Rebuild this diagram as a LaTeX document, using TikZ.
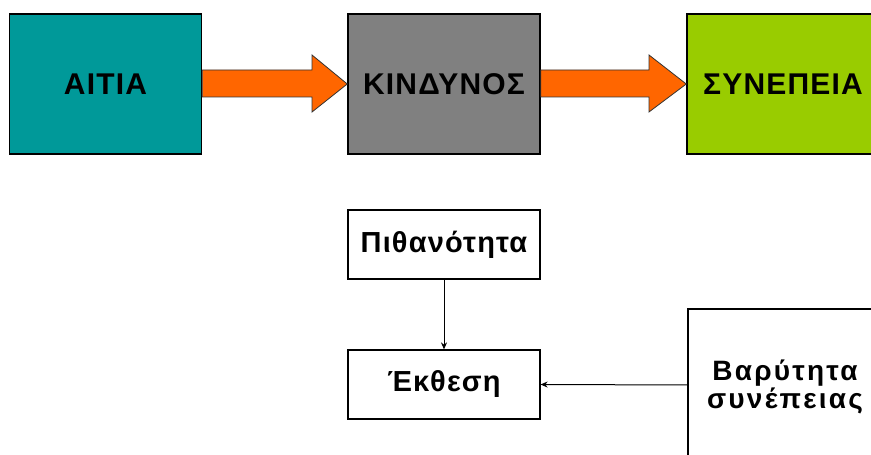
\documentclass[tikz,border=0pt]{standalone}
\usepackage{fontspec}
\setmainfont{Liberation Sans}
\usetikzlibrary{arrows.meta}
\definecolor{teal1}{HTML}{009999}
\definecolor{grey1}{HTML}{808080}
\definecolor{green1}{HTML}{99CC00}
\definecolor{orange1}{HTML}{FF6600}
\tikzset{
  bigbox/.style={draw=black, line width=1.5pt, minimum width=192pt, minimum height=140pt, inner sep=0pt, font=\fontsize{30}{34}\selectfont\bfseries\addfontfeatures{LetterSpace=4}, text=black},
  smallbox/.style={draw=black, line width=1.2pt, fill=white, minimum width=192pt, minimum height=69pt, inner sep=0pt, font=\fontsize{29}{32}\selectfont\bfseries\addfontfeatures{LetterSpace=4}, align=center},
  thinarrow/.style={draw=black, line width=1pt, -{Stealth[length=7pt,width=6pt]}},
  blockarrow/.style={fill=orange1, draw=black!80, line width=0.8pt, line join=miter}
}
\begin{document}
\begin{tikzpicture}[x=1pt,y=1pt]
\useasboundingbox (0,0) rectangle (871,455);
\clip (0,0) rectangle (871,455);
% top boxes
\node[bigbox, fill=teal1] (aitia) at (105.5,371) {ΑΙΤΙΑ};
\node[bigbox, fill=grey1] (kindynos) at (444,371) {ΚΙΝΔΥΝΟΣ};
\node[bigbox, fill=green1] (synepeia) at (783,371) {ΣΥΝΕΠΕΙΑ};
% block arrows
\draw[blockarrow] (aitia.east |- 0,385) -- (312,385) -- (312,400) -- (kindynos.west) -- (312,343) -- (312,358) -- (aitia.east |- 0,358) -- cycle;
\draw[blockarrow] (kindynos.east |- 0,385) -- (649,385) -- (649,400) -- (synepeia.west) -- (649,343) -- (649,358) -- (kindynos.east |- 0,358) -- cycle;
% lower boxes
\node[smallbox] (pith) at (444,210.5) {Πιθανότητα};
\node[smallbox] (ekth) at (444,70.5) {Έκθεση};
\node[smallbox, minimum width=194pt, minimum height=156pt, font=\fontsize{28}{28}\selectfont\bfseries\addfontfeatures{LetterSpace=8}] (bar) at (785,68) {Βαρύτητα\\συνέπειας};
% connectors
\draw[thinarrow] (pith.south) -- (ekth.north);
\draw[thinarrow] (bar.west |- 0,70) -- (ekth.east);
\end{tikzpicture}
\end{document}
